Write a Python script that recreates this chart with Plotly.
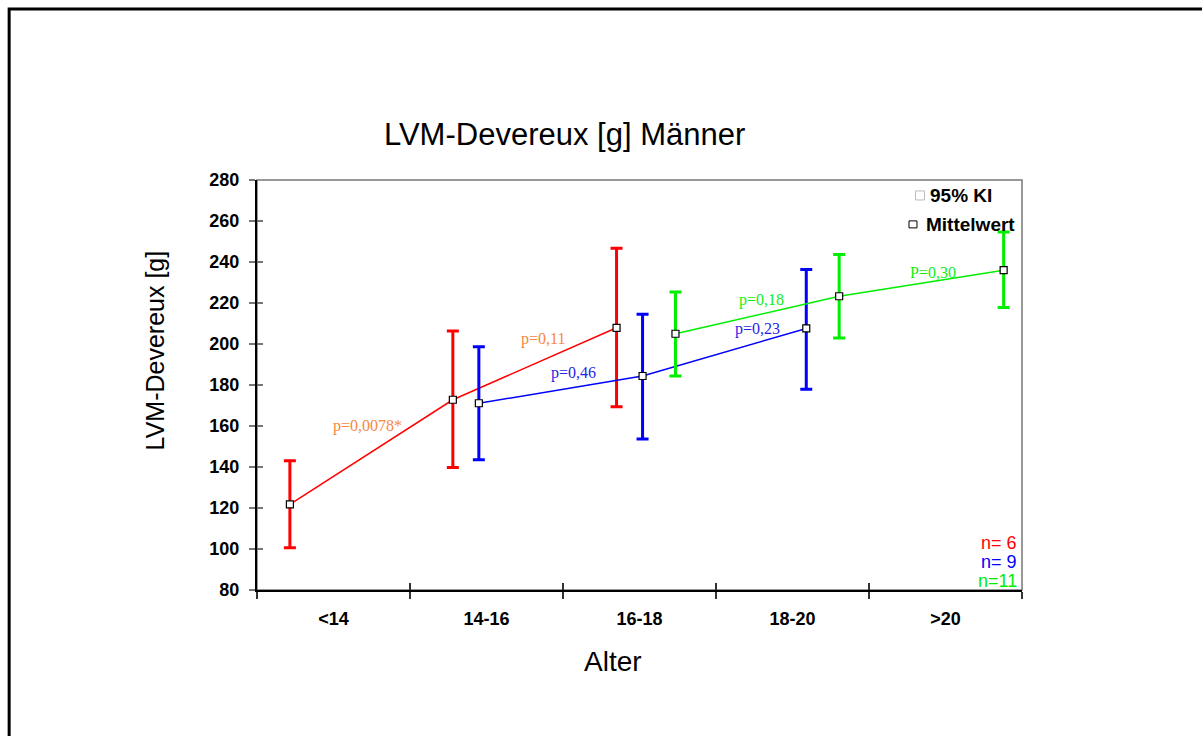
import plotly.graph_objects as go

categories = ["<14", "14-16", "16-18", "18-20", ">20"]
y_ticks = [80, 100, 120, 140, 160, 180, 200, 220, 240, 260, 280]

# red series (<14, 14-16, 16-18)
red_x = [0.215, 1.28, 2.35]
red_mean = [121.8, 172.8, 207.9]
red_lo = [100.6, 139.8, 169.4]
red_hi = [143.0, 206.3, 246.7]

# blue series (14-16, 16-18, 18-20)
blue_x = [1.45, 2.52, 3.59]
blue_mean = [171.1, 184.4, 207.6]
blue_lo = [143.5, 153.6, 177.9]
blue_hi = [198.6, 214.5, 236.3]

# green series (16-18, 18-20, >20)
green_x = [2.735, 3.805, 4.88]
green_mean = [205.0, 223.3, 236.0]
green_lo = [184.4, 202.9, 217.8]
green_hi = [225.4, 243.7, 254.6]

p_labels = ["p=0,0078*", "p=0,11", "p=0,46", "p=0,18", "p=0,23", "P=0,30"]
p_x = [0.725, 1.867, 2.07, 3.30, 3.27, 4.42]
p_y = [160.0, 202.4, 186.0, 221.4, 207.1, 235.1]
p_colors = ["#F7883F", "#F7883F", "#1F1FE8", "#11EE11", "#1F1FE8", "#11EE11"]

n_labels = ["n= 6", "n= 9", "n=11"]

RED, BLUE, GREEN = "#FF0000", "#0000FF", "#00EE00"

fig = go.Figure()

def add_series(xs, mean, lo, hi, color):
    fig.add_trace(go.Scatter(
        x=xs, y=mean, mode="lines+markers",
        line=dict(color=color, width=1.5),
        marker=dict(symbol="square", size=7, color="white",
                    line=dict(color="black", width=1.2)),
        error_y=dict(type="data", symmetric=False,
                     array=[h - m for h, m in zip(hi, mean)],
                     arrayminus=[m - l for m, l in zip(mean, lo)],
                     color=color, thickness=3, width=6),
        showlegend=False, hoverinfo="skip"))

add_series(red_x, red_mean, red_lo, red_hi, RED)
add_series(blue_x, blue_mean, blue_lo, blue_hi, BLUE)
add_series(green_x, green_mean, green_lo, green_hi, GREEN)

# invisible trace for the overlay axes
fig.add_trace(go.Scatter(x=[0], y=[80], xaxis="x2", yaxis="y2",
                         mode="markers", marker=dict(opacity=0),
                         showlegend=False, hoverinfo="skip"))

annotations = []
for t, x, y, c in zip(p_labels, p_x, p_y, p_colors):
    annotations.append(dict(x=x, y=y, xref="x", yref="y", text=t, showarrow=False,
                            xanchor="center", yanchor="middle",
                            font=dict(family="Liberation Serif", size=16, color=c)))

n_colors = [RED, BLUE, GREEN]
n_y = [0.1156, 0.0693, 0.0231]
for t, y, c in zip(n_labels, n_y, n_colors):
    annotations.append(dict(x=0.996, y=y, xref="paper", yref="paper", text=t,
                            showarrow=False, xanchor="right", yanchor="middle",
                            font=dict(family="Liberation Sans", size=18, color=c)))

annotations += [
    dict(x=0.402, y=1.111, xref="paper", yref="paper", text="LVM-Devereux [g] Männer",
         showarrow=False, xanchor="center", yanchor="middle",
         font=dict(family="Liberation Sans", size=31, color="black")),
    dict(x=0.465, y=-0.174, xref="paper", yref="paper", text="Alter",
         showarrow=False, xanchor="center", yanchor="middle",
         font=dict(family="Liberation Sans", size=28, color="black")),
    dict(x=-0.133, y=0.585, xref="paper", yref="paper", text="LVM-Devereux [g]",
         showarrow=False, textangle=-90, xanchor="center", yanchor="middle",
         font=dict(family="Liberation Sans", size=25, color="black")),
    dict(x=0.877, y=0.9623, xref="paper", yref="paper", text="<b>95% KI</b>",
         showarrow=False, xanchor="left", yanchor="middle",
         font=dict(family="Liberation Sans", size=19, color="black")),
    dict(x=0.8719, y=0.8917, xref="paper", yref="paper", text="<b>Mittelwert</b>",
         showarrow=False, xanchor="left", yanchor="middle",
         font=dict(family="Liberation Sans", size=19, color="black")),
]

shapes = [
    dict(type="rect", xref="paper", yref="paper", x0=0, x1=1, y0=0, y1=1,
         line=dict(color="#777777", width=1.5), layer="below"),
    dict(type="rect", xref="paper", yref="paper", x0=-0.324, x1=1.26, y0=-0.39, y1=1.417,
         line=dict(color="black", width=3)),
    dict(type="rect", xref="paper", yref="paper", xsizemode="pixel", ysizemode="pixel",
         xanchor=0.8667, yanchor=0.9623, x0=-4.5, x1=4.5, y0=-4.5, y1=4.5,
         line=dict(color="#BBBBBB", width=1)),
    dict(type="rect", xref="paper", yref="paper", xsizemode="pixel", ysizemode="pixel",
         xanchor=0.8575, yanchor=0.8917, x0=-4, x1=4, y0=-3.5, y1=3.5,
         line=dict(color="black", width=1)),
]

tick_font = dict(family="Liberation Sans", size=18, color="black")

fig.update_layout(
    width=1202, height=736,
    margin=dict(l=257, r=180, t=180, b=146),
    paper_bgcolor="white", plot_bgcolor="white",
    annotations=annotations, shapes=shapes,
    xaxis=dict(range=[0, 5], tickmode="array",
               tickvals=[i + 0.5 for i in range(len(categories))],
               ticktext=["<b>%s</b>" % c for c in categories],
               ticks="", tickfont=tick_font, showgrid=False, zeroline=False,
               showline=True, linecolor="black", linewidth=2,
               minor=dict(tickmode="array", tickvals=list(range(len(categories) + 1)),
                          ticks="outside", ticklen=7, tickcolor="#333333", tickwidth=1.5),
               ticklabelstandoff=11),
    xaxis2=dict(range=[0, 5], overlaying="x", anchor="y", side="bottom",
                tickmode="array", tickvals=list(range(len(categories) + 1)),
                ticks="inside", ticklen=7, tickcolor="#333333", tickwidth=1.5,
                showticklabels=False, showgrid=False, zeroline=False, showline=False),
    yaxis=dict(range=[80, 280], tickmode="array", tickvals=y_ticks,
               ticktext=["<b>%d</b>" % v for v in y_ticks],
               ticks="outside", ticklen=6, tickcolor="#777777", tickwidth=1.5,
               tickfont=tick_font, showgrid=False, zeroline=False,
               showline=True, linecolor="black", linewidth=2, ticklabelstandoff=6),
    yaxis2=dict(range=[80, 280], overlaying="y", anchor="x", side="left",
                tickmode="array", tickvals=y_ticks,
                ticks="inside", ticklen=6, tickcolor="#777777", tickwidth=1.5,
                showticklabels=False, showgrid=False, zeroline=False, showline=False),
)

fig.write_html("out.html")
